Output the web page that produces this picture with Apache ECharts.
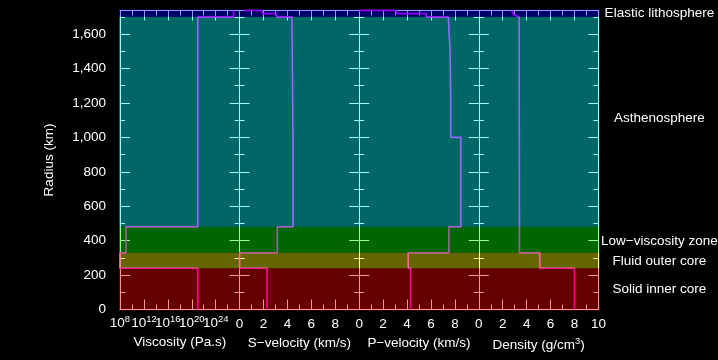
<!DOCTYPE html>
<html><head><meta charset="utf-8">
<script src="https://cdn.jsdelivr.net/npm/echarts@6/dist/echarts.min.js"></script>
<style>html,body{margin:0;padding:0;background:#000;}#c{width:718px;height:360px;}</style>
</head><body><div id="c"></div>
<script>
// ---- Data ----
const layerNames = ['Solid inner core', 'Fluid outer core', 'Low\u2212viscosity zone', 'Asthenosphere', 'Elastic lithosphere'];
const layerBottomKm = [0, 240, 330, 480, 1700];
const layerTopKm = [240, 330, 480, 1700, 1737];
const layerLabelKm = [118, 280, 398, 1108, 1718];
const layerColors = ['#ff0000', '#ffff00', '#00ff00', '#00ffff', '#0000ff'];

const radiusMax = 1737;

// Viscosity profile (log10 Pa.s)
const viscRadius = [0, 240, 240, 330, 330, 480, 480, 1700, 1700, 1737];
const viscLog10  = [21, 21, 8, 8, 9, 9, 21, 21, 27, 27];

// S-velocity profile (km/s)
const sVelRadius = [0, 240, 240, 330, 330, 480, 480, 1000, 1000, 1700, 1700, 1720, 1720, 1737, 1737];
const sVel       = [2.3, 2.3, 0, 0, 3.15, 3.15, 4.46, 4.46, 4.38, 4.38, 3.1, 3.1, 1.9, 1.9, 0.4];

// P-velocity profile (km/s)
const pVelRadius = [0, 240, 240, 330, 330, 480, 480, 1000, 1000, 1250, 1250, 1500, 1500, 1700, 1700, 1720, 1720, 1737, 1737];
const pVel       = [4.3, 4.3, 4.1, 4.1, 7.5, 7.5, 8.5, 8.5, 7.65, 7.65, 7.6, 7.6, 7.45, 7.45, 5.6, 5.6, 3.1, 3.1, 0];

// Density profile (g/cm3)
const densRadius = [0, 240, 240, 330, 330, 480, 480, 1700, 1700, 1711, 1737];
const density    = [8.0, 8.0, 5.1, 5.1, 3.4, 3.4, 3.37, 3.37, 3.3, 2.93, 2.74];

// Panels
const panelNames = ['Viscosity (Pa.s)', 'S\u2212velocity (km/s)', 'P\u2212velocity (km/s)', 'Density (g/cm'];
const panelMin = [8, 0, 0, 0];
const panelMax = [28, 10, 10, 10];
const panelInterval = [4, 2, 2, 2];

// ---- Layout ----
const plotLeft = 120, plotTop = 10.5, plotHeight = 299, panelWidth = 119.6;
const white = '#ffffff';
const font = 'Arial, "Liberation Sans", sans-serif';
const fs = 13.5;

const chart = echarts.init(document.getElementById('c'), null, {renderer: 'canvas'});

const grids = [], xAxes = [], yAxes = [], series = [];
const richName = {
  t: {fontSize: fs, color: white, lineHeight: 16, verticalAlign: 'bottom', fontFamily: font},
  s: {fontSize: 9.5, color: white, lineHeight: 16, verticalAlign: 'top', fontFamily: font}
};

for (let i = 0; i < 4; i++) {
  grids.push({left: plotLeft + i * panelWidth, width: panelWidth, top: plotTop, height: plotHeight, containLabel: false});
  const nameStr = i === 3 ? '{t|' + panelNames[i] + '}{s|3}{t|)}' : '{t|' + panelNames[i] + '}';
  const common = {
    gridIndex: i, type: 'value', min: panelMin[i], max: panelMax[i], interval: panelInterval[i],
    axisLine: {show: true, onZero: false, lineStyle: {color: white, width: 1}},
    axisTick: {show: true, inside: true, length: 10, lineStyle: {color: white, width: 1}},
    minorTick: {show: true, splitNumber: 2, length: 5, lineStyle: {color: white, width: 1}},
    splitLine: {show: false}, minorSplitLine: {show: false}
  };
  xAxes.push(Object.assign({}, common, {
    position: 'bottom',
    name: nameStr, nameLocation: 'middle', nameGap: 24,
    nameTextStyle: {rich: richName},
    axisLabel: i === 0 ? {
      color: white, margin: 5, showMaxLabel: false, fontFamily: font,
      formatter: v => '{b|10}{s|' + v + '}',
      rich: {
        b: {fontSize: fs, color: white, lineHeight: 16, verticalAlign: 'bottom', fontFamily: font},
        s: {fontSize: 9.5, color: white, lineHeight: 16, verticalAlign: 'top', fontFamily: font}
      }
    } : {color: white, fontSize: fs, margin: 8, showMaxLabel: i === 3, fontFamily: font}
  }));
  xAxes.push(Object.assign({}, common, {position: 'top', axisLabel: {show: false}}));

  const yCommon = {
    gridIndex: i, type: 'value', min: 0, max: radiusMax,
    splitLine: {show: false}
  };
  yAxes.push(Object.assign({}, yCommon, {
    position: 'left', interval: 200,
    axisLine: {show: true, onZero: false, lineStyle: {color: white, width: 1}},
    axisTick: {show: true, inside: true, length: 10, lineStyle: {color: white}},
    axisLabel: i === 0 ? {
      show: true, color: white, fontSize: fs, margin: 14, showMaxLabel: false, fontFamily: font,
      formatter: v => v.toLocaleString('en-US')
    } : {show: false},
    name: i === 0 ? 'Radius (km)' : '', nameLocation: 'middle', nameGap: 64,
    nameTextStyle: {color: white, fontSize: fs, fontFamily: font}
  }));
  yAxes.push(Object.assign({}, yCommon, {
    position: 'left', interval: 100,
    axisLine: {show: false, onZero: false},
    axisTick: {show: true, inside: true, length: 5, lineStyle: {color: white}},
    axisLabel: {show: false}
  }));
  yAxes.push(Object.assign({}, yCommon, {
    position: 'right', interval: 200,
    axisLine: {show: true, onZero: false, lineStyle: {color: white, width: 1}},
    axisTick: {show: true, inside: true, length: 10, lineStyle: {color: white}},
    axisLabel: {show: false}
  }));
  yAxes.push(Object.assign({}, yCommon, {
    position: 'right', interval: 100,
    axisLine: {show: false, onZero: false},
    axisTick: {show: true, inside: true, length: 5, lineStyle: {color: white}},
    axisLabel: {show: false}
  }));
}

// overlay grid for layers
grids.push({left: plotLeft, width: panelWidth * 4, top: plotTop, height: plotHeight});
xAxes.push({gridIndex: 4, type: 'value', min: 0, max: 1, show: false});
yAxes.push({gridIndex: 4, type: 'value', min: 0, max: radiusMax, show: false});

const profiles = [
  [viscLog10, viscRadius],
  [sVel, sVelRadius],
  [pVel, pVelRadius],
  [density, densRadius]
];
profiles.forEach((p, i) => {
  series.push({
    type: 'line', xAxisIndex: 2 * i, yAxisIndex: 4 * i, z: 2,
    data: p[0].map((v, k) => [v, p[1][k]]),
    showSymbol: false, symbol: 'none', animation: false, clip: false,
    lineStyle: {color: '#ff00ff', width: 1.6}
  });
});

series.push({
  type: 'custom', xAxisIndex: 8, yAxisIndex: 16, z: 10, silent: true, animation: false, clip: false,
  data: layerNames.map((n, k) => [layerBottomKm[k], layerTopKm[k], k, layerLabelKm[k]]),
  renderItem: function (params, api) {
    const k = api.value(2);
    const lo = api.coord([0, api.value(0)]);
    const hi = api.coord([1, api.value(1)]);
    const lab = api.coord([1, api.value(3)]);
    const padB = k === 0 ? 1 : 0;
    const padT = k === layerNames.length - 1 ? 1 : 0;
    const x0 = lo[0] - 1, x1 = hi[0] + 1;
    const y0 = hi[1] - padT, y1 = lo[1] + padB;
    return {
      type: 'group',
      children: [
        {type: 'rect', shape: {x: x0, y: y0, width: x1 - x0, height: y1 - y0},
         style: {fill: layerColors[k], opacity: 0.4}},
        {type: 'text', style: {text: layerNames[k], x: hi[0] + 61, y: lab[1],
          fill: white, fontSize: fs, fontFamily: font, align: 'center', verticalAlign: 'middle'}}
      ]
    };
  }
});

chart.setOption({
  backgroundColor: '#000000',
  animation: false,
  grid: grids, xAxis: xAxes, yAxis: yAxes, series: series
});
</script></body></html>
